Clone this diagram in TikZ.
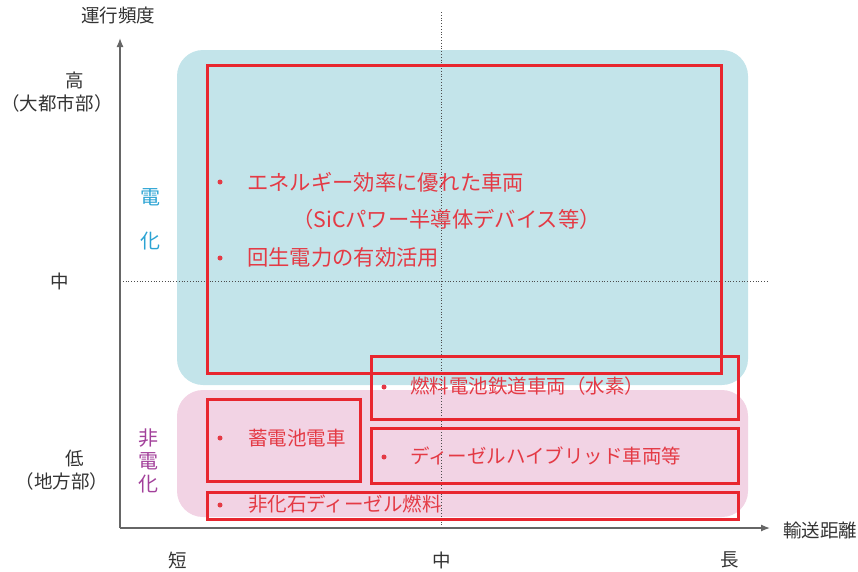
\documentclass[tikz,border=0pt]{standalone}
\usepackage{fontspec}
\setmainfont{Noto Sans CJK JP}
\usetikzlibrary{arrows.meta}
\definecolor{bluebg}{HTML}{C3E4EA}
\definecolor{pinkbg}{HTML}{F2D3E4}
\definecolor{redc}{HTML}{E8262F}
\definecolor{redt}{HTML}{E43A45}
\definecolor{cyant}{HTML}{2BA3D3}
\definecolor{purt}{HTML}{A2409A}
\definecolor{axisc}{HTML}{666666}
\tikzset{
  redbox/.style={draw=redc, line width=3pt},
  rtxt/.style={text=redt, font=\fontsize{19.5}{22}\selectfont, anchor=west, inner sep=0pt},
  rtxtl/.style={rtxt, font=\fontsize{21.3}{24}\selectfont},
  blt/.style={circle, fill=redt, inner sep=0pt, minimum size=5pt},
  lbl/.style={text=black!80, font=\fontsize{18.5}{20}\selectfont, inner sep=0pt},
  cat/.style={font=\fontsize{20}{22}\selectfont, inner sep=0pt},
  axis/.style={draw=axisc, line width=1.3pt},
  guide/.style={draw=black!70, line width=0.8pt, dotted}
}
\begin{document}
\begin{tikzpicture}[x=1pt,y=-1pt]
\useasboundingbox (0,0) rectangle (858,571);
% background regions
\fill[bluebg, rounded corners=26pt] (177,50) rectangle (748,385);
\fill[pinkbg, rounded corners=26pt] (177,390) rectangle (748,517);
% guides
\coordinate (gvt) at (441,12);
\coordinate (gvb) at (441,528);
\coordinate (ghl) at (120,281);
\coordinate (ghr) at (768,281);
\draw[guide] (gvt) -- (gvb);
\draw[guide] (ghl) -- (ghr);
% axes
\coordinate (o) at (120,528);
\coordinate (yt) at (120,38);
\coordinate (xr) at (770,528);
\draw[axis, -{Latex[length=9pt,width=7pt]}] (o) -- (yt);
\draw[axis, -{Latex[length=9pt,width=7pt]}] (o) -- (xr);
% red boxes
\draw[redbox] (207,65) rectangle (721,373);
\draw[redbox] (371,356) rectangle (738,419);
\draw[redbox] (207,399) rectangle (360,481);
\draw[redbox] (371,428) rectangle (738,483);
\draw[redbox] (207,492) rectangle (738,519);
% texts
\node[blt] (b1) at (220,182) {};
\node[rtxtl] (t1) at (247,182) {エネルギー効率に優れた車両};
\node[rtxtl] (t2) at (292,219) {（SiCパワー半導体デバイス等）};
\node[blt] (b3) at (220,258) {};
\node[rtxtl] (t3) at (247,257) {回生電力の有効活用};
\node[blt] (b4) at (384,387) {};
\node[rtxt] (t4) at (410,386) {燃料電池鉄道車両（水素）};
\node[blt] (b5) at (220,438) {};
\node[rtxt] (t5) at (248,438) {蓄電池電車};
\node[blt] (b6) at (384,457) {};
\node[rtxt] (t6) at (410,456) {ディーゼルハイブリッド車両等};
\node[blt] (b7) at (220,505) {};
\node[rtxt] (t7) at (248,504) {非化石ディーゼル燃料};
% category labels
\node[cat, text=cyant] (e1) at (150,197) {電};
\node[cat, text=cyant] (e2) at (150,241) {化};
\node[cat, text=purt] (n1) at (148,438) {非};
\node[cat, text=purt] (n2) at (148,461) {電};
\node[cat, text=purt] (n3) at (148,484) {化};
% axis labels
\node[lbl] (ylab) at (118,15) {運行頻度};
\node[lbl] (xlab) at (820,530) {輸送距離};
\node[lbl] (hi) at (75,80) {高};
\node[lbl] (hi2) at (57,103) {（大都市部）};
\node[lbl] (mid) at (60,281) {中};
\node[lbl] (lo) at (75,458) {低};
\node[lbl] (lo2) at (62,481) {（地方部）};
\node[lbl] (sh) at (178,560) {短};
\node[lbl] (md) at (442,560) {中};
\node[lbl] (lg) at (730,560) {長};
\end{tikzpicture}
\end{document}
